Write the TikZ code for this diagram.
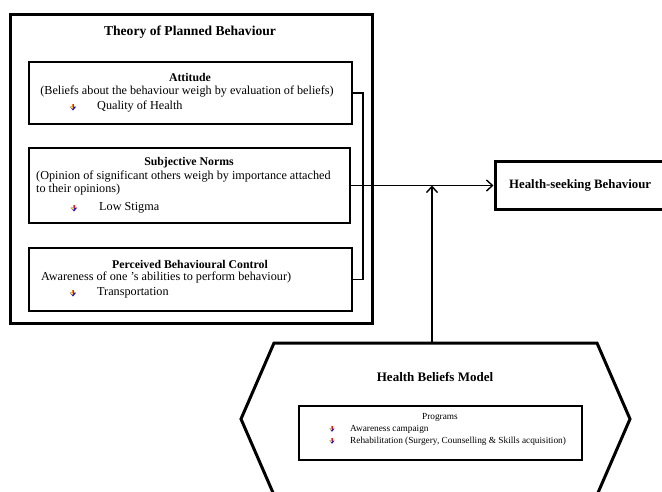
\documentclass[tikz,border=0pt]{standalone}
\usepackage{fontspec}
\setmainfont{Liberation Serif}
\usetikzlibrary{arrows.meta,calc}
\tikzset{
  box/.style={draw, line width=#1, inner sep=0pt},
  box/.default=2pt,
  txt/.style={inner sep=0pt, font=\fontsize{12.2}{14}\selectfont},
  btxt/.style={inner sep=0pt, font=\fontsize{11.8}{14}\selectfont\bfseries},
  small/.style={inner sep=0pt, font=\fontsize{9.3}{11}\selectfont},
  conn/.style={line width=1.4pt},
  arr/.style={conn, -{Straight Barb[length=6pt,width=11pt,line width=1.4pt]}},
  wbullet/.pic={
    \fill[red!85!orange] (-1.2,-3.5) rectangle (1.2,0);
    \fill[blue!70!violet] (-3.2,-0.5) -- (3.2,-0.5) -- (0,3.5) -- cycle;
    \fill[yellow!90!orange] (-3.2,-0.5) -- (0,-0.5) -- (0,1.5) -- (-1.2,1.5) -- cycle;
    \fill[orange] (-1.2,-3.5) rectangle (0,-0.5);
  }
}
\begin{document}
\begin{tikzpicture}[x=1pt,y=-1pt]
\useasboundingbox (0,0) rectangle (662,491);
\clip (0,0) rectangle (662,491);
\fill[white] (0,0) rectangle (662,491);

% Theory of Planned Behaviour
\node[box=3pt, minimum width=362pt, minimum height=309pt] (tpb) at (191,168.5) {};
\node[btxt, font=\fontsize{13.6}{15}\selectfont\bfseries] (tpbt) at (190,32) {Theory of Planned Behaviour};

\node[box, minimum width=323pt, minimum height=62pt] (att) at (190.5,93) {};
\node[btxt] (attt) at (190,77) {Attitude};
\node[txt] (attd) at (187,92) {(Beliefs about the behaviour weigh by evaluation of beliefs)};
\pic at (73,107) {wbullet};
\node[txt, anchor=west] (attq) at (97,107) {Quality of Health};

\node[box, minimum width=321pt, minimum height=75pt] (sn) at (189.5,185.5) {};
\node[btxt] (snt) at (189,163) {Subjective Norms};
\node[txt, anchor=west] (snd1) at (36,177) {(Opinion of significant others weigh by importance attached};
\node[txt, anchor=west] (snd2) at (36,190) {to their opinions)};
\pic at (74,208) {wbullet};
\node[txt, anchor=west] (snq) at (99,208) {Low Stigma};

\node[box, minimum width=323pt, minimum height=63pt] (pbc) at (190.5,279.5) {};
\node[btxt] (pbct) at (190,264) {Perceived Behavioural Control};
\node[txt, anchor=west] (pbcd) at (41,277) {Awareness of one ’s abilities to perform behaviour)};
\pic at (73,293) {wbullet};
\node[txt, anchor=west] (pbcq) at (97,293) {Transportation};

% Health-seeking Behaviour
\node[box=3pt, minimum width=185pt, minimum height=48pt] (hsb) at (587.5,185.5) {};
\node[btxt, font=\fontsize{12.8}{15}\selectfont\bfseries, anchor=west] (hsbt) at (509,185) {Health-seeking Behaviour};

% Health Beliefs Model
\draw[line width=3pt, line join=miter] (274,343) -- (597,343) -- (630,419) -- (597,495) -- (274,495) -- (241,419) -- cycle;
\coordinate (hbmtop) at (432,343);
\node[btxt, font=\fontsize{13}{15}\selectfont\bfseries] (hbmt) at (435,377) {Health Beliefs Model};
\node[box=1.6pt, minimum width=283pt, minimum height=54pt] (prog) at (440.5,433) {};
\node[small] (progt) at (440,417) {Programs};
\pic[scale=0.8] at (332,429) {wbullet};
\node[small, anchor=west] (p1) at (350,429) {Awareness campaign};
\pic[scale=0.8] at (332,441) {wbullet};
\node[small, anchor=west] (p2) at (350,441) {Rehabilitation (Surgery, Counselling \& Skills acquisition)};

% connectors
\draw[conn] (att.east) -- ++(10,0) |- (pbc.east);
\draw[arr] (sn.east) -- (hsb.west);
\draw[arr] (hbmtop) -- (hbmtop |- sn.east);
\end{tikzpicture}
\end{document}
